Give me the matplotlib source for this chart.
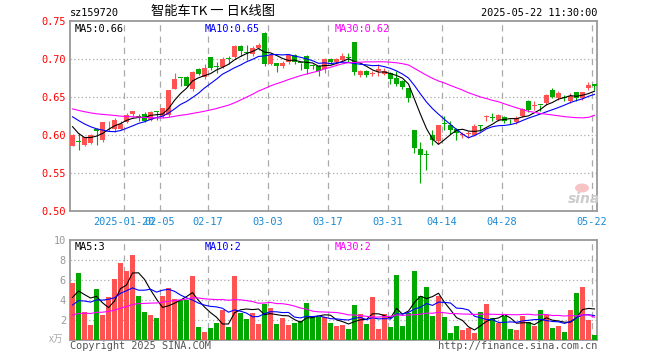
import numpy as np
import pandas as pd
import matplotlib
matplotlib.use("Agg")
import matplotlib.pyplot as plt
from matplotlib.patches import Ellipse

# ---- data (88 trading days, 2025-01-07 .. 2025-05-22) ----
opens = [0.586, 0.5915, 0.587, 0.589, 0.608, 0.593, 0.6165, 0.608, 0.608, 0.617,
         0.627, 0.6245, 0.627, 0.620, 0.6305, 0.625, 0.626, 0.661, 0.675, 0.676,
         0.660, 0.687, 0.676, 0.702, 0.690, 0.690, 0.7005, 0.702, 0.7175, 0.709,
         0.706, 0.7145, 0.7345, 0.694, 0.6945, 0.691, 0.6956, 0.7057, 0.6948, 0.7044,
         0.6915, 0.691, 0.687, 0.7004, 0.696, 0.699, 0.702, 0.7224, 0.6793, 0.6846,
         0.680, 0.6837, 0.6806, 0.6815, 0.675, 0.6714, 0.6613, 0.6063, 0.5822, 0.5745,
         0.6006, 0.5916, 0.6148, 0.6127, 0.6078, 0.6003, 0.601, 0.6004, 0.6125, 0.6233,
         0.6226, 0.6193, 0.6237, 0.6182, 0.6167, 0.6254, 0.6452, 0.6388, 0.6395, 0.6421,
         0.6596, 0.6487, 0.6498, 0.6443, 0.6562, 0.6487, 0.6618, 0.6671]
closes = [0.600, 0.5905, 0.597, 0.600, 0.605, 0.6175, 0.6175, 0.620, 0.615, 0.626,
          0.631, 0.6235, 0.619, 0.630, 0.630, 0.635, 0.659, 0.674, 0.6745, 0.665,
          0.683, 0.680, 0.688, 0.688, 0.689, 0.700, 0.700, 0.7175, 0.710, 0.708,
          0.7145, 0.719, 0.6935, 0.7055, 0.691, 0.6947, 0.7057, 0.696, 0.6945, 0.687,
          0.691, 0.684, 0.700, 0.696, 0.700, 0.704, 0.7015, 0.6825, 0.6846, 0.6793,
          0.6805, 0.6868, 0.6837, 0.6736, 0.667, 0.6627, 0.6486, 0.5835, 0.5735, 0.574,
          0.594, 0.6135, 0.6143, 0.607, 0.6025, 0.6006, 0.6013, 0.6123, 0.612, 0.6237,
          0.622, 0.6267, 0.618, 0.6178, 0.6224, 0.6342, 0.6333, 0.6392, 0.639, 0.6531,
          0.6496, 0.6553, 0.6493, 0.6518, 0.6487, 0.6566, 0.6662, 0.6649]
highs = [0.601, 0.602, 0.598, 0.601, 0.609, 0.6175, 0.618, 0.622, 0.618, 0.629,
         0.632, 0.628, 0.630, 0.632, 0.631, 0.636, 0.659, 0.682, 0.675, 0.677,
         0.684, 0.688, 0.694, 0.703, 0.6956, 0.702, 0.704, 0.718, 0.718, 0.719,
         0.7175, 0.7215, 0.736, 0.708, 0.695, 0.697, 0.707, 0.707, 0.695, 0.705,
         0.694, 0.692, 0.701, 0.701, 0.701, 0.708, 0.708, 0.723, 0.685, 0.685,
         0.6837, 0.6937, 0.688, 0.683, 0.6837, 0.673, 0.662, 0.607, 0.5913, 0.5797,
         0.607, 0.6135, 0.6253, 0.618, 0.609, 0.6039, 0.6048, 0.614, 0.6135, 0.6268,
         0.629, 0.628, 0.625, 0.621, 0.6245, 0.635, 0.646, 0.6443, 0.6395, 0.654,
         0.662, 0.6583, 0.653, 0.6553, 0.657, 0.657, 0.6693, 0.6671]
lows = [0.585, 0.580, 0.586, 0.588, 0.587, 0.591, 0.605, 0.604, 0.606, 0.616,
        0.624, 0.618, 0.617, 0.618, 0.620, 0.623, 0.624, 0.660, 0.664, 0.663,
        0.658, 0.679, 0.674, 0.686, 0.6816, 0.688, 0.694, 0.700, 0.704, 0.699,
        0.704, 0.712, 0.691, 0.6915, 0.6825, 0.688, 0.694, 0.694, 0.686, 0.680,
        0.687, 0.677, 0.6816, 0.694, 0.694, 0.697, 0.6965, 0.6795, 0.676, 0.6758,
        0.677, 0.677, 0.679, 0.667, 0.664, 0.660, 0.6434, 0.5757, 0.5368, 0.5535,
        0.5875, 0.5885, 0.6068, 0.6015, 0.5938, 0.596, 0.596, 0.599, 0.6048, 0.618,
        0.618, 0.618, 0.6158, 0.615, 0.615, 0.6237, 0.630, 0.6333, 0.6311, 0.640,
        0.6482, 0.6465, 0.6443, 0.642, 0.6443, 0.6456, 0.6596, 0.6596]
# volume, in 万
volumes = [5.7, 6.7, 2.8, 1.5, 5.1, 2.5, 4.3, 6.1, 7.7, 6.9,
           8.5, 4.4, 2.8, 2.5, 2.2, 4.4, 5.2, 4.1, 4.0, 4.0,
           6.4, 1.3, 0.8, 1.2, 1.7, 3.0, 1.3, 6.4, 2.7, 2.1,
           2.7, 1.6, 3.6, 3.2, 1.6, 2.2, 1.5, 1.7, 1.9, 3.7,
           2.4, 2.3, 2.3, 1.7, 1.4, 1.5, 1.1, 3.5, 2.6, 1.6,
           4.3, 1.1, 2.6, 1.3, 6.5, 1.4, 2.7, 6.9, 4.4, 5.3,
           2.4, 4.4, 2.3, 0.7, 1.4, 1.0, 1.2, 0.7, 2.8, 3.6,
           2.2, 1.7, 2.4, 1.1, 1.0, 2.4, 1.8, 1.4, 3.0, 2.5,
           1.2, 1.4, 0.8, 3.0, 4.7, 5.3, 2.0, 0.5]

# sessions before the window, estimated from where the MA lines start
prev_close = [0.650, 0.648, 0.645, 0.643, 0.640, 0.638, 0.641, 0.644, 0.642, 0.639,
              0.636, 0.634, 0.637, 0.640, 0.638, 0.635, 0.632, 0.634, 0.637, 0.637,
              0.640, 0.642, 0.636, 0.633, 0.634, 0.635, 0.624, 0.600, 0.596]
prev_volume = [2.2, 1.8, 2.5, 1.6, 2.1, 1.9, 2.4, 1.7, 2.0, 2.3,
               1.8, 2.2, 1.6, 1.9, 2.1, 2.4, 1.8, 2.0, 1.7, 2.0,
               2.4, 3.1, 2.6, 2.9, 2.7, 3.5, 4.6, 3.2, 4.3]

# legend texts as printed on the chart
price_ma_labels = ["MA5:0.66", "MA10:0.65", "MA30:0.62"]
volume_ma_labels = ["MA5:3", "MA10:2", "MA30:2"]

tick_labels = ["2025-01-20", "02-05", "02-17", "03-03", "03-17", "03-31", "04-14", "04-28", "05-22"]
tick_bars = [9, 15, 23, 33, 43, 53, 62, 72, 87]

RED = "#ff5252"
GREEN = "#00a800"
GRID = "#aaaaaa"
MONO = "DejaVu Sans Mono"
W, H = 660, 360


def fx(px):
    return px / W


def fy(py):
    return 1 - py / H


n = len(closes)
x = np.arange(n)
up = np.array(closes) >= np.array(opens)
colors = np.where(up, RED, GREEN)

full_close = pd.Series(prev_close + closes)
full_vol = pd.Series(prev_volume + volumes)
ma = {k: full_close.rolling(k).mean().values[-n:] for k in (5, 10, 30)}
vma = {k: full_vol.rolling(k).mean().values[-n:] for k in (5, 10, 30)}
ma_colors = {5: "black", 10: "#0000ff", 30: "#ff00ff"}
label_x = [75, 205, 335]

fig = plt.figure(figsize=(6.6, 3.6), dpi=100)
ax = fig.add_axes([fx(70), fy(211), fx(597) - fx(70), fy(21) - fy(211)])
axv = fig.add_axes([fx(70), fy(340), fx(597) - fx(70), fy(240) - fy(340)])

xlim = (-0.42, n - 1 + 0.42)
vlines = [b - 0.42 for b in tick_bars]

# ---- price panel ----
body_lo = np.minimum(opens, closes)
body_h = np.maximum(np.abs(np.array(closes) - np.array(opens)), 0.0012)
ax.vlines(x, lows, highs, colors=colors, lw=0.8, zorder=3)
ax.bar(x, body_h, bottom=body_lo, width=0.82, color=colors, lw=0, zorder=4)
for k in (5, 10, 30):
    ax.plot(x, ma[k], color=ma_colors[k], lw=0.8, zorder=5)

ax.set_xlim(*xlim)
ax.set_ylim(0.50, 0.75)
for v in (0.55, 0.60, 0.65, 0.70):
    ax.axhline(v, color=GRID, lw=0.9, ls=(0, (1, 2)), zorder=1)
for v in vlines:
    ax.axvline(v, color=GRID, lw=0.9, ls=(0, (5, 4)), zorder=1)
ax.set_yticks([0.50, 0.55, 0.60, 0.65, 0.70, 0.75])
ax.set_yticklabels(["%.2f" % v for v in ax.get_yticks()], color="#ff0000",
                   fontsize=7.4, family=MONO)
ax.set_xticks(vlines)
ax.set_xticklabels(tick_labels, color="#1a8ad4", fontsize=7.4, family=MONO)
ax.tick_params(length=0, pad=3)
ax.tick_params(axis="x", pad=4.5)

for lbl, px, k in zip(price_ma_labels, label_x, (5, 10, 30)):
    ax.text((px - 70) / 527, 0.985, lbl, transform=ax.transAxes, color=ma_colors[k],
            fontsize=7.4, family=MONO, va="top", ha="left")

# ---- volume panel ----
axv.bar(x, volumes, width=0.82, color=colors, lw=0, zorder=3)
for k in (5, 10, 30):
    axv.plot(x, vma[k], color=ma_colors[k], lw=0.8, zorder=4)
axv.set_xlim(*xlim)
axv.set_ylim(0, 10)
for v in (2, 4, 6, 8):
    axv.axhline(v, color=GRID, lw=0.9, ls=(0, (1, 2)), zorder=1)
for v in vlines:
    axv.axvline(v, color=GRID, lw=0.9, ls=(0, (5, 4)), zorder=1)
axv.set_yticks([2, 4, 6, 8, 10])
axv.set_yticklabels(["2", "4", "6", "8", "10"], color="#999999", fontsize=7.4, family=MONO)
axv.set_xticks([])
axv.tick_params(length=0, pad=3)

for lbl, px, k in zip(volume_ma_labels, label_x, (5, 10, 30)):
    axv.text((px - 70) / 527, 0.985, lbl, transform=axv.transAxes, color=ma_colors[k],
             fontsize=7.4, family=MONO, va="top", ha="left")

for a in (ax, axv):
    for s in a.spines.values():
        s.set_color("#999999")
        s.set_linewidth(1.3)

# ---- header / footer text ----
fig.text(fx(70), fy(12.5), "sz159720", fontsize=7.4, family=MONO, va="center", ha="left")
fig.text(fx(213), fy(12), "智能车TK 一 日K线图", fontsize=9.5,
         family=["Noto Sans CJK SC", "DejaVu Sans"], va="center", ha="center")
fig.text(fx(597), fy(12.5), "2025-05-22 11:30:00", fontsize=7.4, family=MONO,
         va="center", ha="right")
fig.text(fx(70), fy(346), "Copyright 2025 SINA.COM", fontsize=7.4, family=MONO,
         color="#555555", va="center", ha="left")
fig.text(fx(597), fy(346), "http://finance.sina.com.cn", fontsize=7.4, family=MONO,
         color="#555555", va="center", ha="right")
fig.text(fx(63), fy(339), "x万", fontsize=7, family=["Noto Sans CJK SC", "DejaVu Sans"],
         color="#aaaaaa", va="center", ha="right")

# sina watermark
fig.patches.append(Ellipse((fx(582), fy(188)), 14 / W, 9 / H, transform=fig.transFigure,
                           facecolor="#f6c4c4", edgecolor="none", zorder=0.5))
fig.text(fx(584), fy(199), "sina", fontsize=10, fontweight="bold", style="italic",
         color="#cccccc", va="center", ha="center")

fig.savefig("out.png", dpi=100)
